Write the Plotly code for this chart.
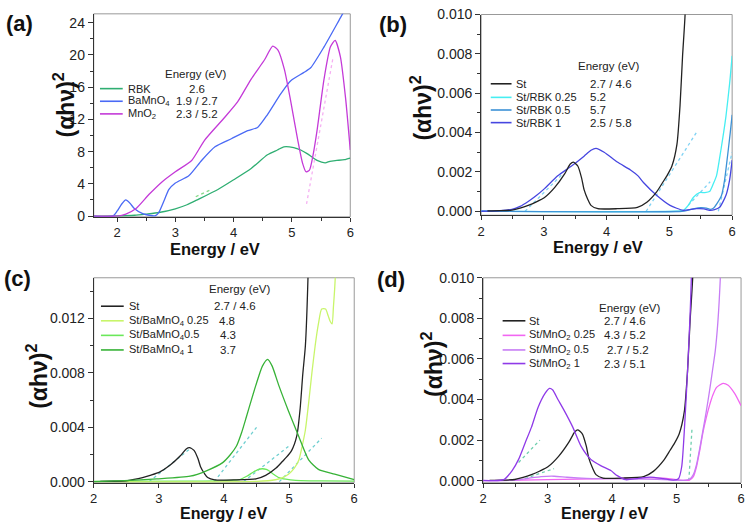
import plotly.graph_objects as go

# ---------------- data ----------------
# (a)
a_rbk_x = [1.6, 2.0, 2.3, 2.5, 2.72, 3.0, 3.2, 3.4, 3.73, 4.0, 4.3, 4.58, 4.75, 4.86, 5.03, 5.15, 5.26, 5.43, 5.57, 5.65, 5.77, 5.9, 6.0]
a_rbk_y = [0, 0.02, 0.1, 0.25, 0.44, 0.9, 1.4, 2.1, 3.3, 4.5, 5.9, 7.6, 8.2, 8.6, 8.5, 8.2, 7.75, 6.9, 6.6, 6.8, 6.9, 7.0, 7.2]
a_ba_x = [1.6, 1.93, 2.0, 2.08, 2.15, 2.22, 2.3, 2.44, 2.55, 2.66, 2.72, 2.8, 2.89, 3.0, 3.23, 3.45, 3.68, 3.96, 4.24, 4.41, 4.58, 4.81, 4.98, 5.2, 5.32, 5.55, 5.83, 6.0]
a_ba_y = [0, 0, 0.6, 1.5, 2.0, 1.6, 0.9, 0.3, 0.1, 0.05, 0.5, 1.8, 3.3, 4.1, 5.0, 6.9, 8.6, 9.6, 10.6, 11.0, 12.6, 15.2, 16.8, 17.8, 18.4, 21.0, 24.6, 26.8]
a_mn_x = [1.6, 2.0, 2.15, 2.32, 2.55, 2.78, 3.0, 3.28, 3.5, 3.84, 4.07, 4.3, 4.53, 4.67, 4.76, 4.87, 4.98, 5.1, 5.18, 5.24, 5.3, 5.36, 5.43, 5.55, 5.66, 5.74, 5.83, 5.92, 6.0]
a_mn_y = [0, 0, 0.24, 0.9, 2.7, 4.3, 5.5, 6.9, 9.4, 12.2, 14.2, 17.0, 19.4, 21.1, 20.6, 18.2, 14.2, 9.4, 6.6, 5.5, 5.7, 7.5, 10.6, 17.0, 21.0, 21.8, 19.8, 14.6, 8.2]
a_fit_mn_x = [5.25, 5.7]
a_fit_mn_y = [1.5, 19.5]
a_fit_rbk_x = [3.35, 3.62]
a_fit_rbk_y = [2.4, 3.3]

# St (shared in b, c, d)
st_x = [2.1, 2.3, 2.49, 2.62, 2.75, 2.88, 3.01, 3.17, 3.33, 3.42, 3.47, 3.54, 3.6, 3.64, 3.7, 3.75, 3.86, 4.17, 4.49, 4.64, 4.8, 4.9, 4.96, 5.04, 5.12, 5.17, 5.21, 5.25, 5.29, 5.33]
st_y = [0.00002, 0.00003, 0.00006, 0.00016, 0.0003, 0.00048, 0.0007, 0.0012, 0.0019, 0.0024, 0.0025, 0.0023, 0.0017, 0.0011, 0.0006, 0.0003, 0.00013, 0.00013, 0.0002, 0.00046, 0.001, 0.0015, 0.0018, 0.0023, 0.0034, 0.0054, 0.0079, 0.0100, 0.015, 0.025]

# (b)
b_r1_x = [2.0, 2.3, 2.49, 2.62, 2.75, 2.88, 3.01, 3.22, 3.44, 3.64, 3.75, 3.83, 3.96, 4.17, 4.38, 4.5, 4.59, 4.8, 5.01, 5.22, 5.35, 5.43, 5.55, 5.64, 5.72, 5.8, 5.9, 5.96, 6.0]
b_r1_y = [0.0, 0.00003, 0.0001, 0.00025, 0.0005, 0.0008, 0.00115, 0.0018, 0.0023, 0.0028, 0.0031, 0.0032, 0.003, 0.0025, 0.0021, 0.0018, 0.00145, 0.0008, 0.0003, 0.00005, 0.0001, 0.00013, 0.00012, 0.00005, 0.00008, 0.0002, 0.0008, 0.0016, 0.0026]
b_r025_x = [2.0, 5.1, 5.22, 5.3, 5.38, 5.48, 5.56, 5.64, 5.7, 5.75, 5.8, 5.85, 5.9, 5.96, 6.0]
b_r025_y = [0.0, 0.0, 0.00005, 0.0003, 0.0007, 0.00095, 0.00095, 0.001, 0.0014, 0.0018, 0.0027, 0.0037, 0.0048, 0.0065, 0.0079]
b_r05_x = [2.0, 5.2, 5.3, 5.4, 5.5, 5.59, 5.65, 5.7, 5.76, 5.83, 5.88, 5.93, 5.97, 6.0]
b_r05_y = [0.0, 0.0, 0.00006, 0.00014, 0.00018, 0.00016, 0.0001, 0.00015, 0.0004, 0.0008, 0.0016, 0.0029, 0.0040, 0.0049]
b_fits = [([2.7, 3.3], [0.0, 0.0019]), ([4.63, 5.45], [0.0, 0.0041]), ([5.3, 5.65], [0.0003, 0.0015]), ([5.78, 6.0], [0.0, 0.003])]

# (c)
c_b1_x = [2.0, 2.47, 2.97, 3.48, 3.73, 3.98, 4.1, 4.19, 4.27, 4.34, 4.42, 4.49, 4.59, 4.67, 4.74, 4.84, 4.99, 5.15, 5.3, 5.45, 5.7, 6.0]
c_b1_y = [0.0, 0.00007, 0.0002, 0.0004, 0.0008, 0.0014, 0.002, 0.0026, 0.0036, 0.0047, 0.006, 0.0071, 0.0085, 0.009, 0.0085, 0.0071, 0.0052, 0.0033, 0.0016, 0.0009, 0.00055, 0.00014]
c_b05_x = [2.0, 3.5, 4.0, 4.24, 4.35, 4.44, 4.52, 4.59, 4.65, 4.69, 4.76, 4.84, 4.95, 5.1, 5.5, 6.0]
c_b05_y = [0.00002, 0.00004, 0.00008, 0.00015, 0.0004, 0.00067, 0.00088, 0.00095, 0.0009, 0.0008, 0.00055, 0.0003, 0.00018, 0.0001, 0.00006, 0.00004]
c_b025_x = [2.0, 4.5, 4.79, 4.9, 4.99, 5.08, 5.15, 5.2, 5.25, 5.3, 5.35, 5.4, 5.45, 5.5, 5.56, 5.6, 5.63, 5.66, 5.68, 5.7, 5.72]
c_b025_y = [0.0, 0.00002, 0.00014, 0.0003, 0.00055, 0.001, 0.0016, 0.0026, 0.0038, 0.0058, 0.008, 0.0100, 0.0116, 0.0127, 0.0127, 0.0122, 0.0118, 0.0116, 0.0128, 0.0142, 0.0160]
c_fits = [([2.85, 3.5], [0.0, 0.0025]), ([3.85, 4.5], [0.0, 0.004]), ([4.3, 5.02], [0.0, 0.0027]), ([4.85, 5.5], [0.0, 0.0032])]

# (d)
d_m1_x = [2.0, 2.32, 2.45, 2.55, 2.65, 2.75, 2.85, 2.96, 3.03, 3.08, 3.16, 3.26, 3.39, 3.52, 3.67, 3.83, 3.98, 4.08, 4.21, 4.39, 4.59, 4.8, 4.95, 5.03, 5.08, 5.13, 5.17, 5.21, 5.23, 5.27]
d_m1_y = [0.00002, 0.00005, 0.0005, 0.00105, 0.00185, 0.00264, 0.0036, 0.0043, 0.00455, 0.00447, 0.004, 0.00344, 0.00264, 0.00169, 0.00105, 0.00073, 0.0005, 0.00025, 0.00005, 0.0001, 0.00018, 0.0001, 0.00003, 0.0001, 0.0007, 0.003, 0.0054, 0.0082, 0.0101, 0.016]
d_m05_x = [2.0, 2.5, 2.7, 2.9, 3.1, 3.3, 3.6, 4.0, 4.5, 4.9, 5.1, 5.21, 5.26, 5.31, 5.36, 5.41, 5.46, 5.51, 5.56, 5.6, 5.64, 5.68, 5.72]
d_m05_y = [0.0, 0.00003, 0.00012, 0.0002, 0.00022, 0.00017, 0.00012, 0.0001, 0.00008, 0.00004, 0.00002, 0.0001, 0.0003, 0.0008, 0.0016, 0.0025, 0.0034, 0.0044, 0.0055, 0.0064, 0.0078, 0.0101, 0.014]
d_m025_x = [2.0, 3.0, 3.5, 4.0, 4.5, 4.8, 5.0, 5.2, 5.26, 5.31, 5.36, 5.41, 5.46, 5.51, 5.56, 5.62, 5.72, 5.8, 5.9, 6.0]
d_m025_y = [0.0, 0.00005, 0.00008, 0.0001, 0.00014, 0.00013, 0.00005, 0.00003, 0.0002, 0.0007, 0.0015, 0.0024, 0.0031, 0.0037, 0.0042, 0.0046, 0.0048, 0.0047, 0.0043, 0.0037]
d_fits = [([2.55, 2.88], [0.0009, 0.002]), ([2.65, 3.1], [0.0001, 0.0006]), ([5.19, 5.24], [0.0, 0.0026])]

# legend texts
a_names = ["RBK", "BaMnO<sub>4</sub>", "MnO<sub>2</sub>"]
a_vals = ["2.6", "1.9 / 2.7", "2.3 / 5.2"]
b_names = ["St", "St/RBK 0.25", "St/RBK 0.5", "St/RBK 1"]
b_vals = ["2.7 / 4.6", "5.2", "5.7", "2.5 / 5.8"]
c_names = ["St", "St/BaMnO<sub>4</sub> 0.25", "St/BaMnO<sub>4</sub>0.5", "St/BaMnO<sub>4</sub> 1"]
c_vals = ["2.7 / 4.6", "4.8", "4.3", "3.7"]
d_names = ["St", "St/MnO<sub>2</sub> 0.25", "St/MnO<sub>2</sub> 0.5", "St/MnO<sub>2</sub> 1"]
d_vals = ["2.7 / 4.6", "4.3 / 5.2", "2.7 / 5.2", "2.3 / 5.1"]

# colors
C_RBK, C_BA, C_MN = "#2fae72", "#4a6af5", "#c43ad8"
C_ST = "#222222"
C_B025, C_B05, C_B1 = "#46eef2", "#3d92d6", "#4646e0"
C_C025, C_C05, C_C1 = "#c8f56a", "#6be85a", "#37b237"
C_D025, C_D05, C_D1 = "#f266f2", "#c77df5", "#8f3ae8"
FIT_A_MN, FIT_A_RBK = "#f5b0f2", "#88d888"
FIT_B, FIT_C, FIT_D = "#7fd2f4", "#6fcfd0", "#6fcfae"

W, H = 750, 525
FONT = "Liberation Sans, Arial, sans-serif"

fig = go.Figure()


def add(x, y, color, xa, ya, width=1.3, smooth=True):
    fig.add_trace(go.Scatter(
        x=x, y=y, mode="lines",
        line=dict(color=color, width=width, shape="spline" if smooth else "linear", smoothing=0.6),
        xaxis=xa, yaxis=ya, showlegend=False, hoverinfo="skip"))


def add_fit(x, y, color, xa, ya):
    fig.add_trace(go.Scatter(
        x=x, y=y, mode="lines", line=dict(color=color, width=1.3, dash="dot"),
        xaxis=xa, yaxis=ya, showlegend=False, hoverinfo="skip"))


# (a)
add_fit(a_fit_mn_x, a_fit_mn_y, FIT_A_MN, "x", "y")
add_fit(a_fit_rbk_x, a_fit_rbk_y, FIT_A_RBK, "x", "y")
add(a_rbk_x, a_rbk_y, C_RBK, "x", "y")
add(a_ba_x, a_ba_y, C_BA, "x", "y")
add(a_mn_x, a_mn_y, C_MN, "x", "y")
# (b)
for fx, fy in b_fits:
    add_fit(fx, fy, FIT_B, "x2", "y2")
add(b_r025_x, b_r025_y, C_B025, "x2", "y2")
add(b_r05_x, b_r05_y, C_B05, "x2", "y2")
add(b_r1_x, b_r1_y, C_B1, "x2", "y2")
add(st_x, st_y, C_ST, "x2", "y2")
# (c)
for fx, fy in c_fits:
    add_fit(fx, fy, FIT_C, "x3", "y3")
add(c_b05_x, c_b05_y, C_C05, "x3", "y3")
add(c_b025_x, c_b025_y, C_C025, "x3", "y3")
add(st_x, st_y, C_ST, "x3", "y3")
add(c_b1_x, c_b1_y, C_C1, "x3", "y3")
# (d)
for fx, fy in d_fits:
    add_fit(fx, fy, FIT_D, "x4", "y4")
add(d_m025_x, d_m025_y, C_D025, "x4", "y4")
add(d_m05_x, d_m05_y, C_D05, "x4", "y4")
add(st_x, st_y, C_ST, "x4", "y4")
add(d_m1_x, d_m1_y, C_D1, "x4", "y4")


def px(x):
    return x / W


def py(y):
    return 1 - y / H


def xaxis(dom, rng, anchor):
    return dict(domain=dom, range=rng, anchor=anchor, showgrid=False, zeroline=False,
                showline=True, linecolor="#333", linewidth=1, ticks="outside", ticklen=4,
                tickcolor="#333", tick0=2, dtick=1,
                minor=dict(ticks="outside", ticklen=3, dtick=0.5, tickcolor="#333", showgrid=False),
                tickfont=dict(family=FONT, size=13, color="#222"))


def yaxis(dom, rng, anchor, dtick, mdtick, fmt=None):
    d = dict(domain=dom, range=rng, anchor=anchor, showgrid=False, zeroline=False,
             showline=True, linecolor="#333", linewidth=1, ticks="outside", ticklen=5,
             tickcolor="#333", tick0=0, dtick=dtick,
             minor=dict(ticks="outside", ticklen=3, dtick=mdtick, tickcolor="#333", showgrid=False),
             tickfont=dict(family=FONT, size=14, color="#222"))
    if fmt:
        d["tickformat"] = fmt
    return d


top = [py(215), py(6)]
bot = [py(488.7), py(277.7)]
fig.update_layout(
    width=W, height=H, margin=dict(l=0, r=0, t=0, b=0),
    paper_bgcolor="white", plot_bgcolor="white",
    xaxis=xaxis([px(90.7), px(350)], [1.6, 6.0], "y"),
    yaxis=yaxis(top, [-0.1, 25.1], "x", 4, 2),
    xaxis2=xaxis([px(482.3), px(736)], [2.0, 6.0], "y2"),
    yaxis2=yaxis([py(213.3), py(6.7)], [-0.0002, 0.010], "x2", 0.002, 0.001, ".3f"),
    xaxis3=xaxis([px(90.7), px(354)], [2.0, 6.0], "y3"),
    yaxis3=yaxis(bot, [-0.00008, 0.015], "x3", 0.004, 0.002, ".3f"),
    xaxis4=xaxis([px(484.3), px(745)], [2.0, 6.0], "y4"),
    yaxis4=yaxis(bot, [-0.0001, 0.010], "x4", 0.002, 0.001, ".3f"),
)

shapes = []
annotations = []
# gray frames
for xa, ya in [("x", "y"), ("x2", "y2"), ("x3", "y3"), ("x4", "y4")]:
    shapes.append(dict(type="rect", xref=xa + " domain", yref=ya + " domain", x0=0, x1=1, y0=0, y1=1,
                       line=dict(color="#999", width=1), layer="below"))


def ann(x, y, text, size, bold=False, xanchor="center", angle=0, color="#111"):
    annotations.append(dict(x=px(x), y=py(y), xref="paper", yref="paper", text=("<b>%s</b>" % text) if bold else text,
                            showarrow=False, xanchor=xanchor, yanchor="middle", textangle=angle,
                            font=dict(family=FONT, size=size, color=color)))


# panel labels
for (lx, ly, t) in [(16, 16, "(a)"), (393, 17, "(b)"), (14, 278, "(c)"), (391, 279, "(d)")]:
    ann(lx, ly, t, 22, bold=True)
# axis titles
for (lx, ly, s) in [(213, 248, 16.5), (600, 246, 16.5), (222, 520, 16), (607, 520, 16)]:
    ann(lx, ly, "Energy / eV", s, bold=True)
for (lx, ly) in [(61, 100), (422, 103), (34, 379), (432, 367)]:
    ann(lx, ly, "(αhν)<sup>2</sup>", 23, bold=True, angle=-90)


def legend(header_xy, rows_y, line_x, name_x, val_x, names, vals, colors, val_anchor="left"):
    ann(header_xy[0], header_xy[1], "Energy (eV)", 11.5, color="#222")
    for i, yy in enumerate(rows_y):
        shapes.append(dict(type="line", xref="paper", yref="paper", x0=px(line_x[0]), x1=px(line_x[1]),
                           y0=py(yy), y1=py(yy), line=dict(color=colors[i], width=1.6)))
        ann(name_x, yy, names[i], 11, xanchor="left", color="#222")
        vx = val_x[i] if isinstance(val_x, list) else val_x
        ann(vx, yy, vals[i], 11.5, xanchor=val_anchor, color="#222")


legend((194, 68), [83, 96, 109], (97, 120), 123, 195, a_names, a_vals, [C_RBK, C_BA, C_MN], val_anchor="center")
legend((612, 60), [78, 92, 105, 118], (492, 513), 516, 590, b_names, b_vals, [C_ST, C_B025, C_B05, C_B1])
legend((239, 289), [307, 322, 337, 352], (98, 121), 124, [210, 215, 216, 216], c_names, c_vals, [C_ST, C_C025, C_C05, C_C1])
legend((633, 309), [322, 337, 352, 366], (504, 527), 529, [604, 604, 607, 604], d_names, d_vals, [C_ST, C_D025, C_D05, C_D1])

fig.update_layout(shapes=shapes, annotations=annotations)
fig.write_html("out.html")
